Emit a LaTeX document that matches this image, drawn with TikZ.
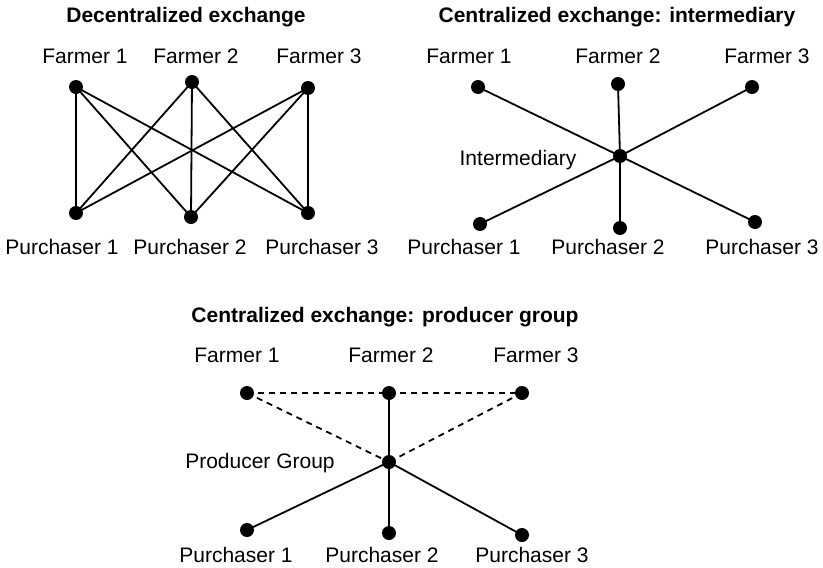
\documentclass[tikz,border=0pt]{standalone}
\usepackage{fontspec}
\setmainfont{Liberation Sans}
\begin{document}
\begin{tikzpicture}[x=1pt,y=-1pt,
  dot/.style={circle,fill=black,inner sep=0pt,minimum size=14pt},
  lbl/.style={anchor=base,inner sep=0pt,font=\fontsize{21}{25}\selectfont},
  ttl/.style={anchor=base,inner sep=0pt,font=\fontsize{21}{25}\selectfont\bfseries},
  edge/.style={line width=1.8pt,black},
  dedge/.style={line width=1.8pt,black,dash pattern=on 6pt off 5pt}]
\useasboundingbox (0,0) rectangle (823,568);
% Panel 1
\node[ttl] (t1) at (186,22) {Decentralized exchange};
\node[lbl] (af1) at (85,63) {Farmer 1};
\node[lbl] (af2) at (196,63) {Farmer 2};
\node[lbl] (af3) at (319,63) {Farmer 3};
\node[lbl] (ap1) at (62,254) {Purchaser 1};
\node[lbl] (ap2) at (190,254) {Purchaser 2};
\node[lbl] (ap3) at (322,254) {Purchaser 3};
\node[dot] (a1) at (76,87) {};
\node[dot] (a2) at (192,82) {};
\node[dot] (a3) at (308,88) {};
\node[dot] (b1) at (76,213) {};
\node[dot] (b2) at (191,217) {};
\node[dot] (b3) at (308,213) {};
\foreach \i in {1,2,3}{\foreach \j in {1,2,3}{\draw[edge] (a\i.center) -- (b\j.center);}}
% Panel 2
\node[ttl] (t2) at (617,22) {Centralized exchange: intermediary};
\node[lbl] (cf1) at (469,63) {Farmer 1};
\node[lbl] (cf2) at (618,63) {Farmer 2};
\node[lbl] (cf3) at (767,63) {Farmer 3};
\node[lbl] (cim) at (518,165) {Intermediary};
\node[lbl] (cp1) at (464,254) {Purchaser 1};
\node[lbl] (cp2) at (608,254) {Purchaser 2};
\node[lbl] (cp3) at (762,254) {Purchaser 3};
\node[dot] (c1) at (478,87) {};
\node[dot] (c2) at (618,84) {};
\node[dot] (c3) at (752,87) {};
\node[dot] (cm) at (620,156) {};
\node[dot] (d1) at (480,224) {};
\node[dot] (d2) at (620,228) {};
\node[dot] (d3) at (755,222) {};
\foreach \n in {c1,c2,c3,d1,d2,d3}{\draw[edge] (cm.center) -- (\n.center);}
% Panel 3
\node[ttl] (t3) at (385,322) {Centralized exchange: producer group};
\node[lbl] (ef1) at (237,362) {Farmer 1};
\node[lbl] (ef2) at (391,362) {Farmer 2};
\node[lbl] (ef3) at (536,362) {Farmer 3};
\node[lbl] (epg) at (260,468) {Producer Group};
\node[lbl] (ep1) at (236,562) {Purchaser 1};
\node[lbl] (ep2) at (382,562) {Purchaser 2};
\node[lbl] (ep3) at (532,562) {Purchaser 3};
\node[dot] (e1) at (247,393) {};
\node[dot] (e2) at (389,393) {};
\node[dot] (e3) at (522,393) {};
\node[dot] (em) at (389,462) {};
\node[dot] (g1) at (247,530) {};
\node[dot] (g2) at (389,533) {};
\node[dot] (g3) at (522,535) {};
\draw[dedge] (e1.center) -- (e2.center);
\draw[dedge] (e2.center) -- (e3.center);
\draw[dedge] (e1.center) -- (em.center);
\draw[dedge] (e3.center) -- (em.center);
\foreach \n in {e2,g1,g2,g3}{\draw[edge] (em.center) -- (\n.center);}
\end{tikzpicture}
\end{document}
